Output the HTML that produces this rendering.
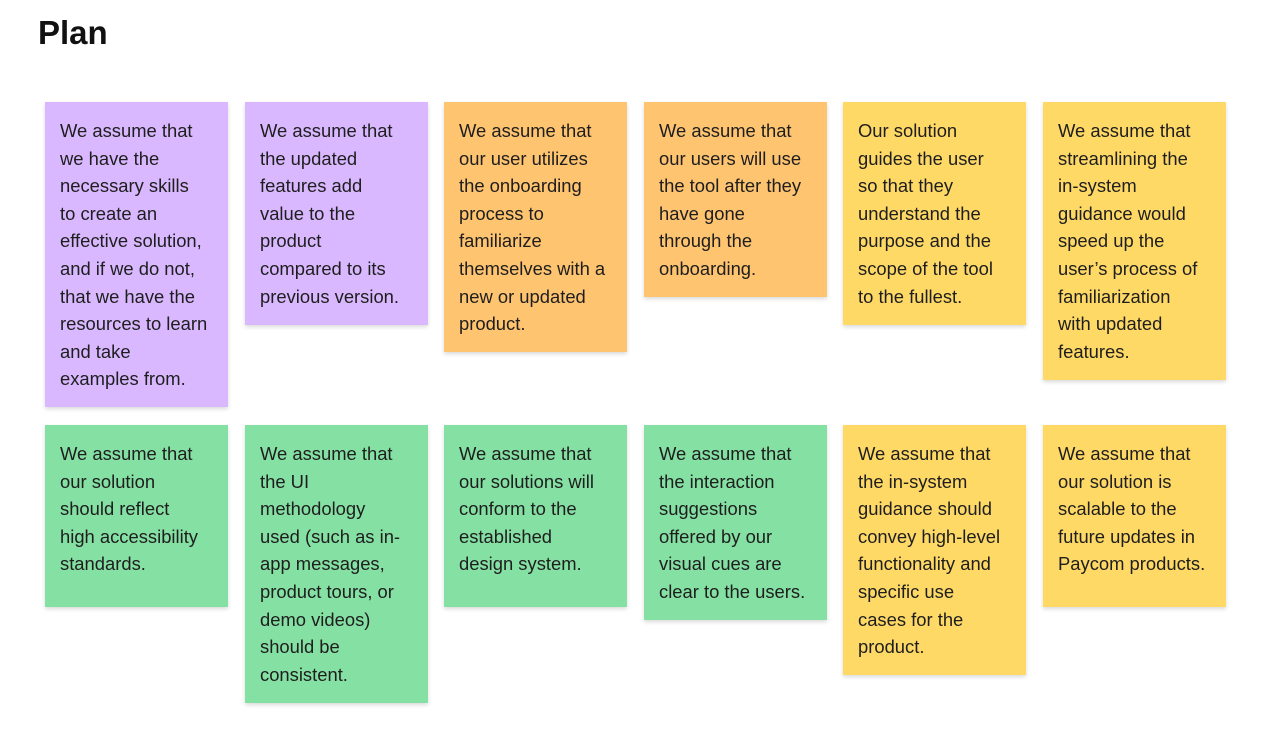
<!DOCTYPE html>
<html><head><meta charset="utf-8"><style>
body{margin:0;width:1280px;height:733px;background:#fff;position:relative;overflow:hidden;font-family:"Liberation Sans",sans-serif;}
h1{position:absolute;left:38px;top:14px;margin:0;font-size:33px;font-weight:bold;color:#111;}
.c{position:absolute;width:183px;box-sizing:border-box;padding:15px 0 0 15px;font-size:18.4px;line-height:27.6px;color:#1e1e1e;white-space:nowrap;box-shadow:0 2px 4px rgba(0,0,0,0.15);}
.p{background:#d9b8ff}.o{background:#ffc470}.y{background:#ffd966}.g{background:#85e0a3}
</style></head><body>
<h1>Plan</h1>
<div class="c p" style="left:45px;top:102px;height:305px">We assume that<br>we have the<br>necessary skills<br>to create an<br>effective solution,<br>and if we do not,<br>that we have the<br>resources to learn<br>and take<br>examples from.</div>
<div class="c p" style="left:245px;top:102px;height:223px">We assume that<br>the updated<br>features add<br>value to the<br>product<br>compared to its<br>previous version.</div>
<div class="c o" style="left:444px;top:102px;height:250px">We assume that<br>our user utilizes<br>the onboarding<br>process to<br>familiarize<br>themselves with a<br>new or updated<br>product.</div>
<div class="c o" style="left:644px;top:102px;height:195px">We assume that<br>our users will use<br>the tool after they<br>have gone<br>through the<br>onboarding.</div>
<div class="c y" style="left:843px;top:102px;height:223px">Our solution<br>guides the user<br>so that they<br>understand the<br>purpose and the<br>scope of the tool<br>to the fullest.</div>
<div class="c y" style="left:1043px;top:102px;height:278px">We assume that<br>streamlining the<br>in-system<br>guidance would<br>speed up the<br>user’s process of<br>familiarization<br>with updated<br>features.</div>
<div class="c g" style="left:45px;top:425px;height:182px">We assume that<br>our solution<br>should reflect<br>high accessibility<br>standards.</div>
<div class="c g" style="left:245px;top:425px;height:278px">We assume that<br>the UI<br>methodology<br>used (such as in-<br>app messages,<br>product tours, or<br>demo videos)<br>should be<br>consistent.</div>
<div class="c g" style="left:444px;top:425px;height:182px">We assume that<br>our solutions will<br>conform to the<br>established<br>design system.</div>
<div class="c g" style="left:644px;top:425px;height:195px">We assume that<br>the interaction<br>suggestions<br>offered by our<br>visual cues are<br>clear to the users.</div>
<div class="c y" style="left:843px;top:425px;height:250px">We assume that<br>the in-system<br>guidance should<br>convey high-level<br>functionality and<br>specific use<br>cases for the<br>product.</div>
<div class="c y" style="left:1043px;top:425px;height:182px">We assume that<br>our solution is<br>scalable to the<br>future updates in<br>Paycom products.</div>
</body></html>
